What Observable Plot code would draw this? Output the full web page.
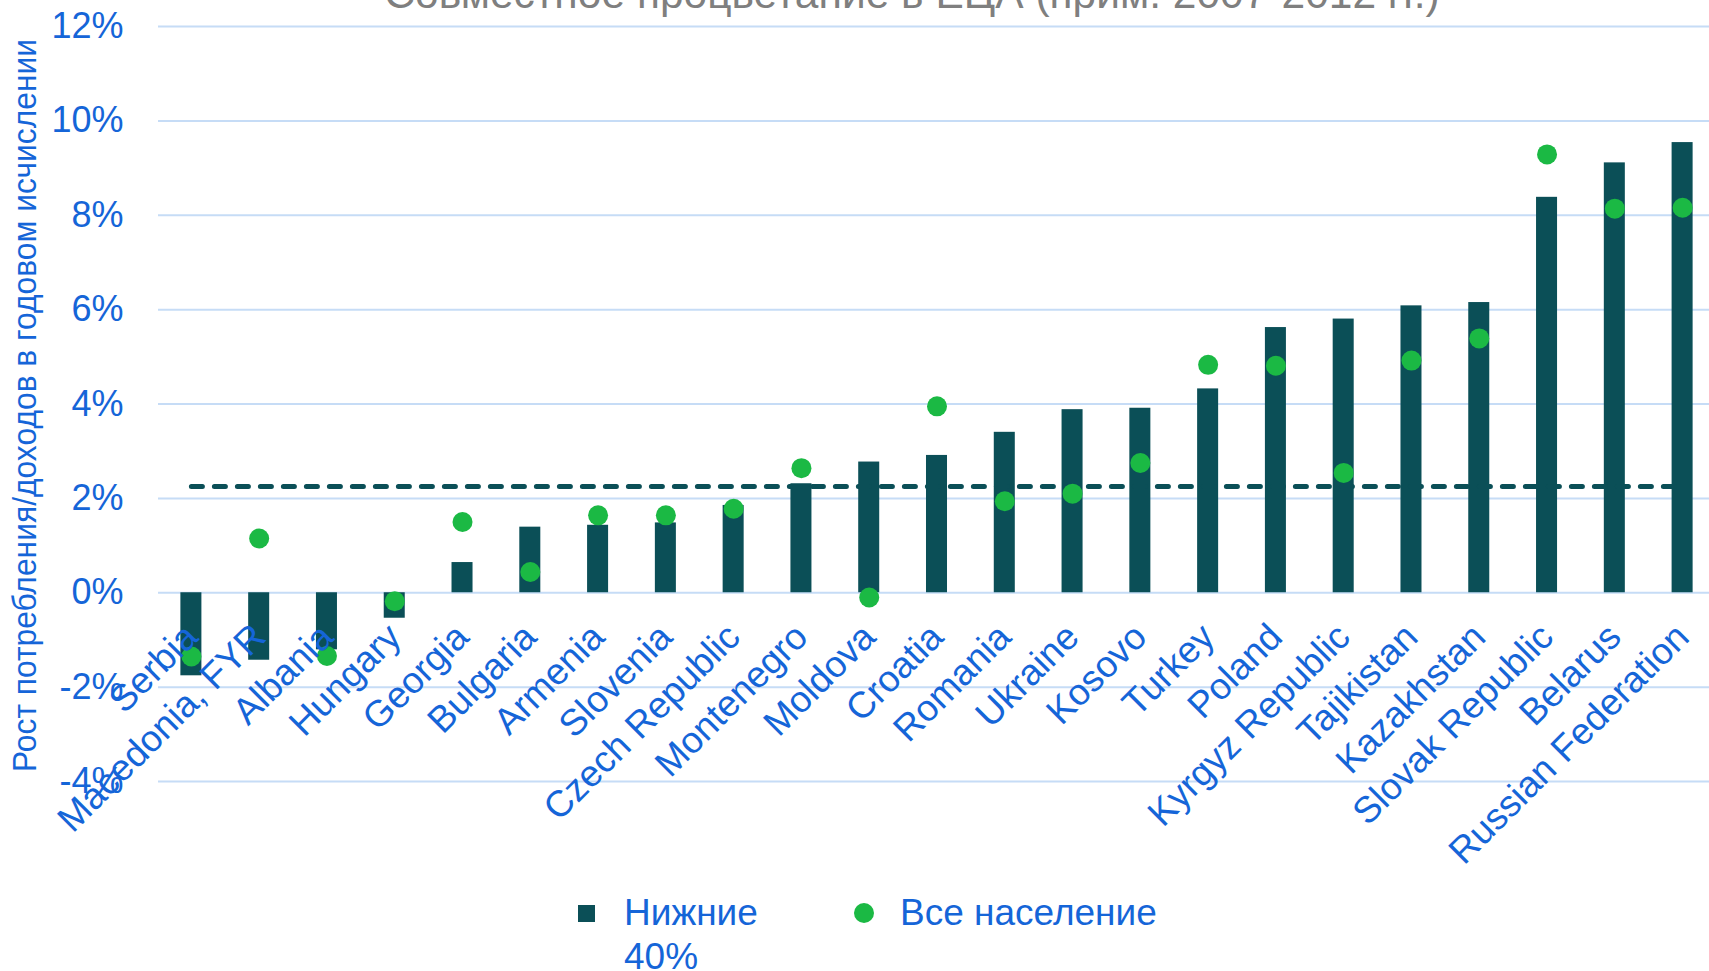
<!DOCTYPE html>
<html><head><meta charset="utf-8">
<script src="https://cdn.jsdelivr.net/npm/d3@7"></script>
<script src="https://cdn.jsdelivr.net/npm/@observablehq/plot@0.6"></script>
<style>
body{margin:0;background:#fff;}
#wrap{position:relative;width:1709px;height:971px;overflow:hidden;font-family:"Liberation Sans",Arial,sans-serif;}
#title{position:absolute;left:0;width:1824px;top:-27px;text-align:center;font-size:42.5px;line-height:42px;color:#7f7f7f;white-space:nowrap;}
#chart{position:absolute;left:0;top:0;}
.legtext{position:absolute;font-size:37px;line-height:44px;color:#1565d8;}
.sw{position:absolute;}
</style></head>
<body><div id="wrap"><div id="title"></div><div id="chart"></div><div id="legend"></div></div>
<script>
const countries = ["Serbia","Macedonia, FYR","Albania","Hungary","Georgia","Bulgaria","Armenia","Slovenia","Czech Republic","Montenegro","Moldova","Croatia","Romania","Ukraine","Kosovo","Turkey","Poland","Kyrgyz Republic","Tajikistan","Kazakhstan","Slovak Republic","Belarus","Russian Federation"];
const bottom40 = [-1.76,-1.43,-1.21,-0.54,0.64,1.39,1.43,1.48,1.85,2.31,2.77,2.91,3.40,3.88,3.91,4.32,5.62,5.80,6.08,6.15,8.38,9.11,9.54];
const allPop = [-1.35,1.15,-1.34,-0.18,1.50,0.44,1.64,1.64,1.78,2.64,-0.10,3.95,1.94,2.10,2.75,4.83,4.81,2.54,4.92,5.39,9.29,8.14,8.16];
const benchmark = 2.25;
const yTicks = [-4,-2,0,2,4,6,8,10,12];
const titleText = "Совместное процветание в ЕЦА (прим. 2007-2012 гг.)";
const yLabel = "Рост потребления/доходов в годовом исчислении";
const legendLabels = ["Нижние 40%", "Все население"];

const barColor = "#0b4f57", dotColor = "#1bb944", textBlue = "#1565d8", gridColor = "#c6dcf6";
const rows = countries.map((c,i)=>({country:c, b40:bottom40[i], all:allPop[i]}));

document.getElementById("title").textContent = titleText;

const chart = Plot.plot({
  width: 1709, height: 880,
  marginLeft: 158, marginRight: 0, marginTop: 26, marginBottom: 99,
  style: {fontFamily: "Liberation Sans, Arial, sans-serif", background: "transparent"},
  x: {domain: countries, range: [157, 1716], paddingInner: 0.69, paddingOuter: 0.345, round: false, axis: null},
  y: {domain: [-4, 12]},
  marks: [
    Plot.gridY(yTicks, {stroke: gridColor, strokeOpacity: 1, strokeWidth: 2}),
    Plot.axisY({ticks: yTicks, tickFormat: d => `${d}%`, tickSize: 0, tickPadding: 35, fontSize: 36, color: textBlue, label: null}),
    Plot.barY(rows, {x: "country", y: "b40", fill: barColor}),
    Plot.line(rows, {x: "country", y: () => benchmark, stroke: barColor, strokeWidth: 5, strokeDasharray: "11,12", strokeLinecap: "round"}),
    Plot.dot(rows, {x: "country", y: "all", r: 10, fill: dotColor, stroke: "none"}),
    Plot.text(countries, {x: d => d, y: () => 0, text: d => d, rotate: -45, textAnchor: "end", dy: 38, fontSize: 37, fill: textBlue}),
    Plot.text([yLabel], {frameAnchor: "left", dx: -133, dy: 368, rotate: -90, textAnchor: "start", text: d => d, fontSize: 33, fill: textBlue})
  ]
});
document.getElementById("chart").appendChild(chart);
d3.select(chart).selectAll("text").filter(function(){ return this.textContent === yLabel; })
  .attr("textLength", 733).attr("lengthAdjust", "spacingAndGlyphs");

const leg = document.getElementById("legend");
leg.innerHTML = `
<div class="sw" style="left:578px;top:905px;width:17px;height:17px;background:${barColor}"></div>
<div class="legtext" style="left:624px;top:891px;width:150px;">${legendLabels[0]}</div>
<div class="sw" style="left:854px;top:903px;width:20px;height:20px;border-radius:50%;background:${dotColor}"></div>
<div class="legtext" style="left:900px;top:891px;white-space:nowrap;">${legendLabels[1]}</div>`;
</script>
</body></html>
